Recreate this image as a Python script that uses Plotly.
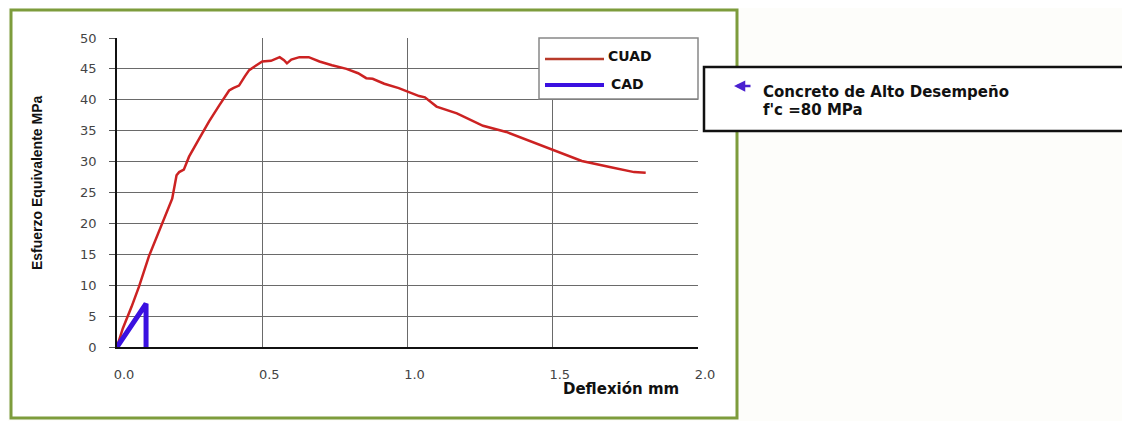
import plotly.graph_objects as go

# ---- data ----
cuad_x = [0, 0.02, 0.05, 0.076, 0.11, 0.15, 0.19, 0.205, 0.214, 0.23, 0.248, 0.283,
          0.317, 0.352, 0.386, 0.40, 0.42, 0.44, 0.455, 0.48, 0.5, 0.53, 0.56, 0.575,
          0.585, 0.60, 0.628, 0.66, 0.697, 0.74, 0.79, 0.83, 0.858, 0.88, 0.92, 0.97,
          1.0, 1.04, 1.06, 1.1, 1.17, 1.26, 1.34, 1.43, 1.51, 1.6, 1.7, 1.78, 1.82]
cuad_y = [0, 3, 6.5, 9.8, 14.7, 19.5, 24, 27.8, 28.3, 28.7, 30.8, 33.7,
          36.5, 39.1, 41.5, 41.9, 42.3, 43.8, 44.8, 45.6, 46.2, 46.3, 46.9, 46.4,
          45.9, 46.5, 46.9, 46.9, 46.2, 45.6, 45.0, 44.3, 43.5, 43.4, 42.6, 41.9,
          41.3, 40.6, 40.4, 38.9, 37.8, 35.8, 34.8, 33.2, 31.8, 30.1, 29.1, 28.3, 28.2]
cad_x = [0, 0.1, 0.1]
cad_y = [0, 7, 0]

x_ticks = [0.0, 0.5, 1.0, 1.5, 2.0]
x_ticktext = ["0.0", "0.5", "1.0", "1.5", "2.0"]
y_ticks = [0, 5, 10, 15, 20, 25, 30, 35, 40, 45, 50]

series_names = ["CUAD", "CAD"]
red = "#cc2222"
blue = "#3a10e0"

fig = go.Figure()
fig.add_trace(go.Scatter(x=cuad_x, y=cuad_y, mode="lines", name=series_names[0],
                         line=dict(color=red, width=2.5), showlegend=False))
fig.add_trace(go.Scatter(x=cad_x, y=cad_y, mode="lines", name=series_names[1],
                         line=dict(color=blue, width=5), showlegend=False))

# page body has an 8px margin; target positions are in window pixels
OFF = 8
W, H = 1130 - OFF, 421 - OFF
PL, PR, PT, PB = 117, 698, 38, 347          # plot area in window pixels
L, R, T, B = PL - OFF, 1130 - PR, PT - OFF, 421 - PB
pw, ph = PR - PL, PB - PT


def px(xp):
    return (xp - PL) / pw


def py(yp):
    return (PB - yp) / ph


shapes = []
# green outer frame (white inside)
shapes.append(dict(type="rect", xref="paper", yref="paper",
                   x0=px(11), x1=px(737), y0=py(418), y1=py(10),
                   line=dict(color="#7d9c3c", width=3), fillcolor="white",
                   layer="below"))
# legend box
shapes.append(dict(type="rect", xref="paper", yref="paper",
                   x0=px(539), x1=px(698), y0=py(99), y1=py(38),
                   line=dict(color="#888888", width=1.5), fillcolor="white"))
shapes.append(dict(type="line", xref="paper", yref="paper",
                   x0=px(545), x1=px(604), y0=py(59), y1=py(59),
                   line=dict(color="#b83a2a", width=2.5)))
shapes.append(dict(type="line", xref="paper", yref="paper",
                   x0=px(545), x1=px(604), y0=py(85), y1=py(85),
                   line=dict(color=blue, width=4)))
# annotation box
shapes.append(dict(type="rect", xref="paper", yref="paper",
                   x0=px(704), x1=px(1140), y0=py(131), y1=py(67),
                   line=dict(color="#111111", width=2.5), fillcolor="white"))

bold_wide = "DejaVu Sans"
annotations = [
    dict(text="<b>CUAD</b>", x=px(606), y=py(56), xref="paper", yref="paper",
         xanchor="left", yanchor="middle", showarrow=False,
         font=dict(family=bold_wide, size=14, color="#111")),
    dict(text="<b>CAD</b>", x=px(609), y=py(84), xref="paper", yref="paper",
         xanchor="left", yanchor="middle", showarrow=False,
         font=dict(family=bold_wide, size=14, color="#111")),
    dict(text="", x=px(734), y=py(86), xref="paper", yref="paper",
         showarrow=True, ax=18, ay=0, axref="pixel", ayref="pixel",
         arrowhead=2, arrowsize=0.9, arrowwidth=2.5, arrowcolor="#4a20d0"),
    dict(text="<b>Concreto de Alto Desempeño</b>", x=px(761), y=py(92),
         xref="paper", yref="paper", xanchor="left", yanchor="middle",
         showarrow=False, font=dict(family=bold_wide, size=15, color="#111")),
    dict(text="<b>f'c =80 MPa</b>", x=px(761), y=py(110),
         xref="paper", yref="paper", xanchor="left", yanchor="middle",
         showarrow=False, font=dict(family=bold_wide, size=15, color="#111")),
    dict(text="<b>Esfuerzo Equivalente MPa</b>", x=px(37), y=py(183),
         xref="paper", yref="paper", xanchor="center", yanchor="middle",
         textangle=-90, showarrow=False,
         font=dict(family="Liberation Sans", size=14, color="#111")),
    dict(text="<b>Deflexión mm</b>", x=px(621), y=py(389),
         xref="paper", yref="paper", xanchor="center", yanchor="middle",
         showarrow=False, font=dict(family=bold_wide, size=15, color="#111")),
]

fig.update_layout(
    width=W, height=H, autosize=False,
    margin=dict(l=L, r=R, t=T, b=B, pad=0),
    paper_bgcolor="#fdfdfa", plot_bgcolor="white",
    shapes=shapes, annotations=annotations, showlegend=False,
    xaxis=dict(range=[0, 2], tickvals=x_ticks, ticktext=x_ticktext,
               showgrid=True, gridcolor="#6a6a6a", gridwidth=1,
               zeroline=False, showline=True, linecolor="#111", linewidth=2,
               ticks="", ticklabelstandoff=14, ticklabelshift=7,
               tickfont=dict(family="DejaVu Sans", size=13, color="#444")),
    yaxis=dict(range=[0, 50], tickvals=y_ticks,
               showgrid=True, gridcolor="#6a6a6a", gridwidth=1,
               zeroline=False, showline=True, linecolor="#111", linewidth=1.5,
               ticks="outside", ticklen=6, tickcolor="#555",
               ticklabelstandoff=10,
               tickfont=dict(family="DejaVu Sans", size=13, color="#444")),
)

fig.write_html("out.html")
